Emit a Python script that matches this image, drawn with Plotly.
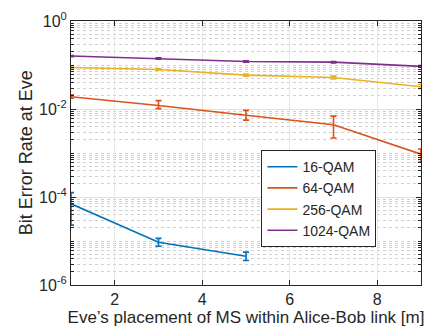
import plotly.graph_objects as go

x16 = [1, 3, 5]
y16 = [7e-5, 9.4e-6, 4.5e-6]
hi16 = [1.26e-4, 1.15e-5, 5.6e-6]
lo16 = [2.3e-5, 7.6e-6, 3.6e-6]

x64 = [1, 3, 5, 7, 9]
y64 = [0.019, 0.012, 0.0072, 0.0044, 0.00094]
hi64 = [0.021, 0.0155, 0.0093, 0.0069, 0.00123]
lo64 = [0.0175, 0.0102, 0.0056, 0.0022, 0.00062]

x256 = [1, 3, 5, 7, 9]
y256 = [0.088, 0.079, 0.059, 0.052, 0.032]
hi256 = [0.092, 0.082, 0.062, 0.056, 0.036]
lo256 = [0.084, 0.076, 0.056, 0.048, 0.029]

x1024 = [1, 3, 5, 7, 9]
y1024 = [0.16, 0.14, 0.12, 0.116, 0.093]
hi1024 = [0.165, 0.145, 0.124, 0.12, 0.097]
lo1024 = [0.155, 0.135, 0.116, 0.112, 0.089]

names = ["16-QAM", "64-QAM", "256-QAM", "1024-QAM"]
colors = ["#0072BD", "#D95319", "#EDB120", "#7E2F8E"]
ytickvals = [1e-6, 1e-4, 1e-2, 1e0]
yticktext = ["10<sup>-6</sup>", "10<sup>-4</sup>", "10<sup>-2</sup>", "10<sup>0</sup>"]
xtickvals = [2, 4, 6, 8]

series = [(x16, y16, hi16, lo16), (x64, y64, hi64, lo64),
          (x256, y256, hi256, lo256), (x1024, y1024, hi1024, lo1024)]

fig = go.Figure()
for (xs, ys, hi, lo), n, c in zip(series, names, colors):
    fig.add_trace(go.Scatter(
        x=xs, y=ys, name=n, mode="lines", cliponaxis=False,
        line=dict(color=c, width=1.6),
        error_y=dict(type="data", symmetric=False,
                     array=[h - v for h, v in zip(hi, ys)],
                     arrayminus=[v - l for v, l in zip(ys, lo)],
                     color=c, thickness=1.6, width=3),
    ))

font = "Liberation Sans, Arial, sans-serif"
fig.update_layout(
    width=432, height=333,
    margin=dict(l=71, r=10, t=17, b=48),
    paper_bgcolor="white", plot_bgcolor="white",
    font=dict(family=font, size=16, color="#262626"),
    legend=dict(x=0.544, y=0.511, xanchor="left", yanchor="top",
                bgcolor="white", bordercolor="#262626", borderwidth=1,
                font=dict(size=14, color="#262626"),
                tracegroupgap=0, itemwidth=30),
    showlegend=True,
    annotations=[dict(text="Bit Error Rate at Eve", textangle=-90,
                      xref="paper", yref="paper", x=-0.128, y=0.5,
                      xanchor="center", yanchor="middle", showarrow=False,
                      font=dict(size=18, color="#262626"))],
)
fig.update_xaxes(
    range=[1, 9], tickvals=xtickvals, ticks="inside", ticklen=5,
    tickcolor="#262626", showline=True, linecolor="#262626", linewidth=1,
    mirror="ticks", showgrid=True, gridcolor="#e6e6e6", gridwidth=1,
    zeroline=False, tickfont=dict(size=16),
    title=dict(text="Eve’s placement of MS within Alice-Bob link [m]",
               font=dict(size=17), standoff=2),
)
fig.update_yaxes(
    type="log", range=[-6, 0], tickvals=ytickvals, ticktext=yticktext,
    ticks="inside", ticklen=5, tickcolor="#262626",
    showline=True, linecolor="#262626", linewidth=1, mirror="ticks",
    showgrid=True, gridcolor="#e0e0e0", gridwidth=1, zeroline=False,
    tickfont=dict(size=16),
    minor=dict(dtick="D1", ticks="inside", ticklen=3, tickcolor="#262626",
               showgrid=True, gridcolor="#d0d0d0", griddash="dot", gridwidth=1),
)
fig.write_html("out.html")
